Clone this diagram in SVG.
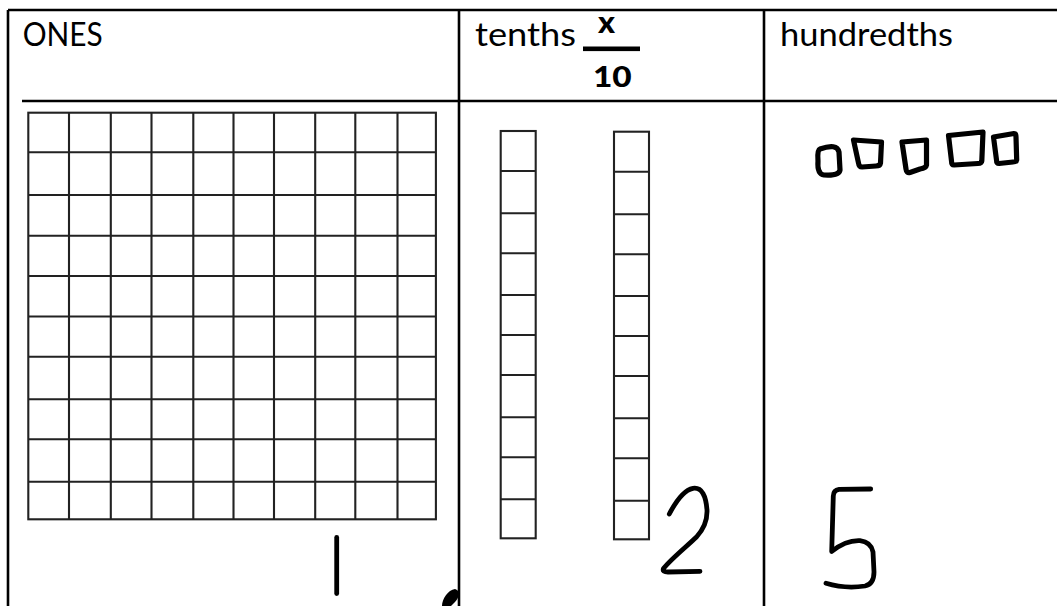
<svg xmlns="http://www.w3.org/2000/svg" width="1057" height="606" viewBox="0 0 1057 606">
  <style>
    .tbl { stroke: #000; stroke-width: 2.6; fill: none; }
    .grid { stroke: #222; stroke-width: 2.1; fill: none; }
    .hand { stroke: #000; stroke-width: 4.8; fill: none; stroke-linecap: round; stroke-linejoin: round; }
    .sq { stroke: #000; stroke-width: 5.2; fill: none; stroke-linecap: round; stroke-linejoin: round; }
    .lbl { font-family: Lato, "Liberation Sans", sans-serif; font-size: 32px; fill: #000; }
    .bold { font-family: Lato, "Liberation Sans", sans-serif; font-weight: 900; fill: #000; }
  </style>
  <rect width="1057" height="606" fill="#fff"/>

  <g id="table">
    <line class="tbl" x1="8" y1="10" x2="1057" y2="10"/>
    <line class="tbl" x1="8" y1="10" x2="8" y2="606"/>
    <line class="tbl" x1="459" y1="10" x2="459" y2="606"/>
    <line class="tbl" x1="764" y1="10" x2="764" y2="606"/>
    <line class="tbl" x1="22" y1="101" x2="1057" y2="101"/>
  </g>

  <g id="header-ones">
    <text class="lbl" x="22.7" y="45.5" textLength="80" lengthAdjust="spacingAndGlyphs">ONES</text>
  </g>
  <g id="header-tenths">
    <text class="lbl" x="475" y="45.5" textLength="101" lengthAdjust="spacingAndGlyphs">tenths</text>
    <text class="bold" x="598" y="33" font-size="30" textLength="17" lengthAdjust="spacingAndGlyphs">x</text>
    <rect x="583" y="46.5" width="57" height="4.6" fill="#000"/>
    <text class="bold" x="593" y="87.3" font-size="29" textLength="38.7" lengthAdjust="spacingAndGlyphs">10</text>
  </g>
  <g id="header-hundredths">
    <text class="lbl" x="780" y="45.5" textLength="173" lengthAdjust="spacingAndGlyphs">hundredths</text>
  </g>

  <g id="ones-grid">
    <rect class="grid" x="28.3" y="112.7" width="407.6" height="406.6"/>
    <path class="grid" d="M69,112.7V519.3 M110.8,112.7V519.3 M151.5,112.7V519.3 M193.3,112.7V519.3 M233.5,112.7V519.3 M274,112.7V519.3 M315.2,112.7V519.3 M355.3,112.7V519.3 M397.5,112.7V519.3"/>
    <path class="grid" d="M28.3,152.3H435.9 M28.3,195H435.9 M28.3,235.7H435.9 M28.3,276H435.9 M28.3,316.5H435.9 M28.3,356.7H435.9 M28.3,399.3H435.9 M28.3,439.3H435.9 M28.3,481.7H435.9"/>
  </g>

  <g id="tenth-bar-1">
    <rect class="grid" x="500.7" y="131" width="35" height="407.3"/>
    <path class="grid" d="M500.7,171H535.7 M500.7,213.3H535.7 M500.7,253.3H535.7 M500.7,295H535.7 M500.7,335H535.7 M500.7,375H535.7 M500.7,417.3H535.7 M500.7,457.3H535.7 M500.7,499.3H535.7"/>
  </g>
  <g id="tenth-bar-2">
    <rect class="grid" x="614" y="131.7" width="35" height="407.6"/>
    <path class="grid" d="M614,171.7H649 M614,214.3H649 M614,254.3H649 M614,296H649 M614,336H649 M614,376H649 M614,418.3H649 M614,458.3H649 M614,500.7H649"/>
  </g>

  <g id="hundredth-squares">
    <path class="sq" d="M820,149 Q837,143 839,152 L840,170 Q839,176 824,175 Q817,174 818,161 Q817,150 820,149 Z"/>
    <path class="sq" d="M853.5,140 L881.5,142 L880.5,163 Q880,166 876,166 L862,167 Q859,167 858.5,163 Z"/>
    <path class="sq" d="M902,142 L926.5,140 L926.5,165 Q926,168 920,169 L910,172.5 Q906.5,173.5 906,169 Z"/>
    <path class="sq" d="M948.5,135.5 L983,132 L981.8,161 Q981.5,163.5 978,163.5 L954,165 Q951.5,165 951.5,161 Z"/>
    <path class="sq" d="M993.5,137 L1014,133.5 Q1016,133.5 1016,137 L1016.7,160 Q1016.5,162 1013,162 L999,163.5 Q996.5,163.5 996.5,160 Z"/>
  </g>

  <g id="handwritten-digits">
    <path class="hand" d="M336.7,537.5 L336.7,593.5"/>
    <path d="M455,589 C460,590 460,597 455,602 L451,606 L442,606 C442,599 448,590 455,589 Z" fill="#000"/>
    <path class="hand" d="M669.3,514 C675,503 684,490 693,488.3 C702,487 706,496 707,510 C707.5,522 702,531 696.5,537 C686,547 671,559 663.5,568.5 Q662,572 668,572 L700,571.3"/>
    <path class="hand" d="M870.7,489 L839,489.3 Q833.5,490 833.3,496 L831.7,551.5 Q846,540 860,540.7 Q871,542 873,552 L874,572 Q874,584 865,586 Q845,589 826,583.3"/>
  </g>
</svg>
